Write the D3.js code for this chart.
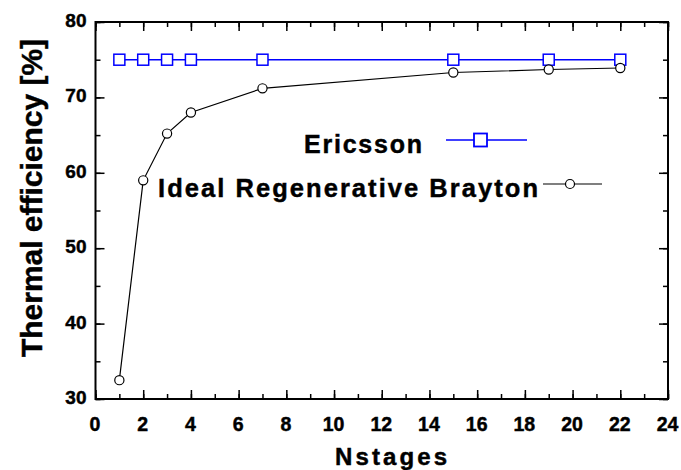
<!DOCTYPE html>
<html><head><meta charset="utf-8">
<script src="https://cdn.jsdelivr.net/npm/d3@7"></script>
<style>
body{margin:0;background:#fff;}
text{font-family:"Liberation Sans",Arial,sans-serif;font-weight:bold;fill:#000;stroke:#000;stroke-width:0.45px;}
</style></head>
<body><svg id="c" width="681" height="470"></svg>
<script>
const nstages = [1, 2, 3, 4, 7, 15, 19, 22];
const ericsson = [75, 75, 75, 75, 75, 75, 75, 75];
const brayton = [32.5, 59.0, 65.2, 68.0, 71.2, 73.3, 73.7, 73.9];
const xTicks = [0, 2, 4, 6, 8, 10, 12, 14, 16, 18, 20, 22, 24];
const yTicks = [30, 40, 50, 60, 70, 80];
const seriesNames = ["Ericsson", "Ideal Regenerative Brayton"];

const svg = d3.select("#c");
const L = 95.5, R = 668, T = 22, B = 399;
const x = d3.scaleLinear().domain([0, 24]).range([L, R]);
const y = d3.scaleLinear().domain([30, 80]).range([B, T]);

const xMinor = d3.range(0, 25, 1);
const yMinor = d3.range(30, 81, 5);

function ticks(axisFn, scale, vals, size, tr) {
  svg.append("g").attr("transform", tr)
    .call(axisFn(scale).tickValues(vals).tickSize(size).tickFormat("").tickSizeOuter(0));
}
ticks(d3.axisTop, x, xMinor, 5, `translate(0,${B})`);
ticks(d3.axisBottom, x, xMinor, 5, `translate(0,${T})`);
ticks(d3.axisRight, y, yMinor, 5, `translate(${L},0)`);
ticks(d3.axisLeft, y, yMinor, 5, `translate(${R},0)`);
ticks(d3.axisTop, x, xTicks, 9, `translate(0,${B})`);
ticks(d3.axisBottom, x, xTicks, 9, `translate(0,${T})`);
ticks(d3.axisRight, y, yTicks, 9, `translate(${L},0)`);
ticks(d3.axisLeft, y, yTicks, 9, `translate(${R},0)`);
svg.selectAll(".domain").remove();
svg.selectAll(".tick line").attr("stroke", "#000").attr("stroke-width", 1.5);

// frame
svg.append("rect").attr("x", L).attr("y", T).attr("width", R - L).attr("height", B - T)
  .attr("fill", "none").attr("stroke", "#000").attr("stroke-width", 2);

// tick labels
svg.append("g").selectAll("text").data(xTicks).join("text")
  .attr("x", d => x(d) - 0.5).attr("y", 431).attr("text-anchor", "middle")
  .attr("font-size", 19.5).text(d => d);
svg.append("g").selectAll("text").data(yTicks).join("text")
  .attr("x", 86.5).attr("y", d => y(d) + 5).attr("text-anchor", "end")
  .attr("font-size", 19).text(d => d);

// axis titles
svg.append("text").attr("x", 335).attr("y", 465).attr("font-size", 24)
  .attr("textLength", 112).attr("lengthAdjust", "spacing").text("Nstages");
svg.append("text").attr("transform", "translate(42,198) rotate(-90)")
  .attr("text-anchor", "middle").attr("font-size", 30)
  .attr("textLength", 318).attr("lengthAdjust", "spacingAndGlyphs").text("Thermal efficiency [%]");

// series
const pts = nstages.map((n, i) => ({ n, e: ericsson[i], b: brayton[i] }));
svg.append("path").datum(pts).attr("fill", "none").attr("stroke", "#0000ff").attr("stroke-width", 1.5)
  .attr("d", d3.line().x(d => x(d.n)).y(d => y(d.e)));
svg.append("path").datum(pts).attr("fill", "none").attr("stroke", "#000").attr("stroke-width", 1.2)
  .attr("d", d3.line().x(d => x(d.n)).y(d => y(d.b)));
svg.append("g").selectAll("rect").data(pts).join("rect")
  .attr("x", d => x(d.n) - 5.5).attr("y", d => y(d.e) - 5.5).attr("width", 11).attr("height", 11)
  .attr("fill", "#fff").attr("stroke", "#0000ff").attr("stroke-width", 1.5);
svg.append("g").selectAll("circle").data(pts).join("circle")
  .attr("cx", d => x(d.n)).attr("cy", d => y(d.b)).attr("r", 4.6)
  .attr("fill", "#fff").attr("stroke", "#000").attr("stroke-width", 1.2);

// legend
svg.append("text").attr("x", 304).attr("y", 153).attr("font-size", 25)
  .attr("textLength", 118).attr("lengthAdjust", "spacing").text(seriesNames[0]);
svg.append("line").attr("x1", 446).attr("x2", 527).attr("y1", 140).attr("y2", 140)
  .attr("stroke", "#0000ff").attr("stroke-width", 1.5);
svg.append("rect").attr("x", 480.5 - 6.5).attr("y", 140 - 6.5).attr("width", 13).attr("height", 13)
  .attr("fill", "#fff").attr("stroke", "#0000ff").attr("stroke-width", 1.8);
svg.append("text").attr("x", 158).attr("y", 196.5).attr("font-size", 25.5)
  .attr("textLength", 380).attr("lengthAdjust", "spacing").text(seriesNames[1]);
svg.append("line").attr("x1", 543).attr("x2", 602).attr("y1", 184).attr("y2", 184)
  .attr("stroke", "#000").attr("stroke-width", 1.2);
svg.append("circle").attr("cx", 570).attr("cy", 184).attr("r", 4.5)
  .attr("fill", "#fff").attr("stroke", "#000").attr("stroke-width", 1.2);
</script></body></html>
